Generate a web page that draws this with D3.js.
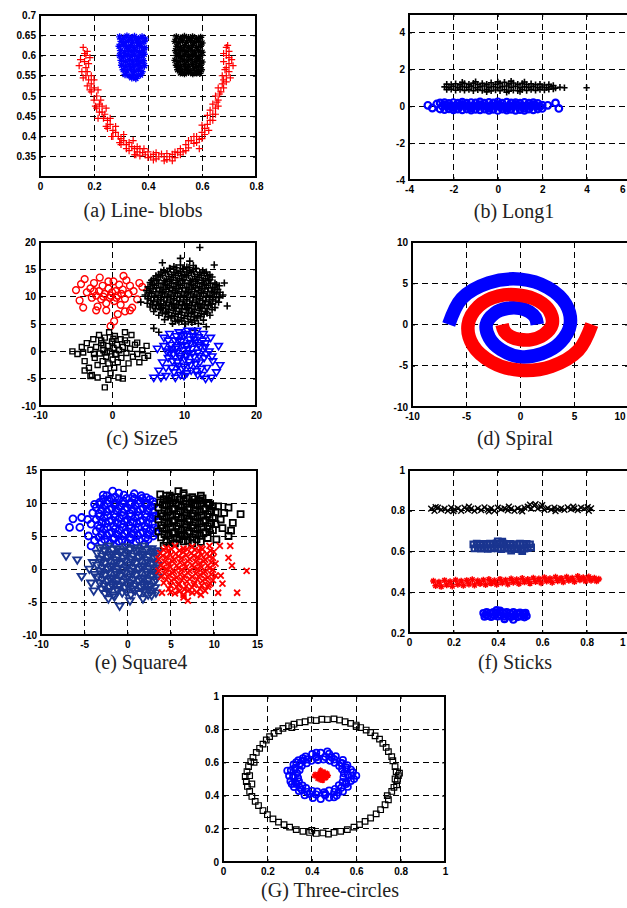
<!DOCTYPE html>
<html><head><meta charset="utf-8">
<script src="https://cdn.jsdelivr.net/npm/d3@7"></script>
<style>body{margin:0;background:#fff}svg{display:block}
.tick text{font-family:"Liberation Sans",Arial,sans-serif;font-weight:bold;font-size:10px;fill:#000}
.cap{font-family:"Liberation Serif","Times New Roman",Times,"DejaVu Serif",serif;font-size:20px;fill:#222}</style>
</head><body>
<svg id="chart" width="627" height="908"></svg>
<script>
// ---------------- DATA (flat x,y lists) ----------------
const captions = ["(a) Line- blobs","(b) Long1","(c) Size5","(d) Spiral","(e) Square4","(f) Sticks","(G) Three-circles"];

const xTicksA=[0,0.2,0.4,0.6,0.8], yTicksA=[0.35,0.4,0.45,0.5,0.55,0.6,0.65,0.7];
const xTicksB=[-4,-2,0,2,4,6], yTicksB=[-4,-2,0,2,4];
const xTicksC=[-10,0,10,20], yTicksC=[-10,-5,0,5,10,15,20];
const xTicksD=[-10,-5,0,5,10], yTicksD=[-10,-5,0,5,10];
const xTicksE=[-10,-5,0,5,10,15], yTicksE=[-10,-5,0,5,10,15];
const xTicksF=[0,0.2,0.4,0.6,0.8,1], yTicksF=[0.2,0.4,0.6,0.8,1];
const xTicksG=[0,0.2,0.4,0.6,0.8,1], yTicksG=[0,0.2,0.4,0.6,0.8,1];

// (a) Line-blobs
const redA=[.16,.62,.175,.61,.17,.60,.15,.59,.165,.585,.18,.58,.17,.57,.155,.56,.17,.55,.19,.55,.18,.54,.16,.545,.19,.53,.2,.52,.19,.51,.21,.50,.2,.49,.22,.48,.21,.47,.23,.475,.22,.46,.24,.455,.235,.445,.25,.44,.26,.43,.25,.42,.27,.415,.28,.41,.27,.40,.29,.40,.30,.395,.31,.39,.30,.38,.32,.38,.33,.385,.34,.375,.33,.365,.35,.37,.36,.362,.37,.37,.38,.36,.37,.352,.39,.355,.40,.362,.41,.35,.42,.356,.43,.345,.44,.35,.45,.357,.46,.35,.47,.343,.48,.35,.49,.356,.50,.348,.51,.36,.52,.37,.53,.362,.54,.38,.55,.372,.56,.39,.57,.383,.58,.40,.59,.393,.60,.41,.61,.42,.60,.428,.62,.43,.63,.44,.62,.452,.64,.455,.63,.465,.65,.47,.64,.48,.66,.49,.65,.50,.67,.51,.66,.52,.675,.53,.68,.54,.69,.55,.70,.56,.69,.57,.70,.58,.71,.59,.69,.60,.70,.61,.69,.62,.68,.605,.705,.545,.685,.565,.59,.37,.49,.34,.35,.355,.225,.49,.175,.525,
.165,.605,.185,.595,.145,.575,.175,.56,.2,.54,.185,.515,.215,.515,.205,.475,.23,.46,.245,.47,.215,.445,.26,.445,.245,.425,.28,.425,.265,.40,.295,.385,.31,.405,.32,.37,.345,.39,.36,.375,.355,.355,.385,.37,.40,.348,.42,.342,.43,.36,.46,.34,.47,.358,.5,.362,.52,.355,.54,.365,.55,.39,.57,.40,.58,.385,.6,.395,.61,.405,.625,.415,.64,.44,.65,.455,.655,.485,.665,.505,.68,.52,.69,.535,.7,.595,.715,.575,.68,.585,.695,.625,.675,.55,.66,.475];
const blueA=[.295,.646,.31,.643,.322,.648,.338,.644,.35,.647,.365,.642,.378,.646,.39,.641,.30,.635,.315,.632,.328,.637,.342,.633,.357,.636,.37,.631,.385,.634,.293,.623,.308,.626,.32,.621,.335,.624,.348,.62,.362,.625,.375,.622,.388,.619,.298,.612,.313,.609,.327,.614,.34,.61,.355,.613,.368,.608,.382,.611,.295,.60,.31,.597,.323,.602,.337,.598,.35,.601,.364,.596,.378,.599,.386,.603,.30,.588,.316,.585,.33,.59,.343,.586,.357,.589,.37,.584,.383,.587,.302,.576,.318,.573,.332,.578,.346,.574,.36,.577,.374,.572,.387,.575,.308,.565,.322,.562,.336,.566,.35,.561,.364,.564,.378,.56,.315,.553,.33,.55,.345,.554,.36,.549,.372,.552,.34,.545,.355,.543];
const blackA=[.505,.646,.52,.643,.535,.647,.55,.644,.565,.646,.58,.642,.595,.645,.50,.635,.513,.632,.528,.636,.543,.633,.558,.637,.572,.632,.587,.635,.60,.631,.507,.623,.52,.62,.535,.624,.55,.621,.565,.625,.58,.62,.594,.623,.502,.612,.516,.609,.53,.613,.545,.61,.56,.614,.574,.609,.588,.612,.60,.608,.506,.60,.52,.597,.535,.601,.55,.598,.565,.602,.58,.597,.595,.60,.50,.588,.515,.585,.53,.589,.545,.586,.56,.59,.575,.585,.59,.588,.60,.584,.505,.576,.52,.573,.535,.577,.55,.574,.565,.578,.58,.573,.594,.576,.51,.565,.525,.562,.54,.566,.555,.563,.57,.567,.585,.562,.598,.565,.52,.557,.535,.555,.55,.558,.566,.555,.58,.557,.592,.556];

// (b) Long1
const blackB=[-2.4,1.05,-2.2,1.02,-2.0,1.08,-1.8,1.0,-1.6,1.06,-1.4,1.03,-1.2,1.09,-1.0,1.0,-0.8,1.05,-0.6,1.1,-0.4,1.02,-0.2,1.07,0,1.0,0.2,1.06,0.4,1.1,0.6,1.03,0.8,1.08,1.0,1.0,1.2,1.05,1.4,1.02,1.6,1.07,1.8,1.0,2.0,1.04,2.2,1.0,2.4,1.06,2.6,0.98,2.8,1.03,3.0,1.0,-2.3,1.2,-2.1,1.18,-1.9,1.22,-1.7,1.17,-1.5,1.23,-1.3,1.19,-1.1,1.25,-0.9,1.18,-0.7,1.24,-0.5,1.2,-0.3,1.27,-0.1,1.19,0.1,1.24,0.3,1.3,0.5,1.21,0.7,1.26,0.9,1.19,1.1,1.24,1.3,1.18,1.5,1.22,1.7,1.17,1.9,1.2,2.1,1.15,2.3,1.18,2.5,1.12,-2.3,0.9,-2.1,0.92,-1.9,0.87,-1.7,0.91,-1.5,0.86,-1.3,0.9,-1.1,0.84,-0.9,0.89,-0.7,0.85,-0.5,0.9,-0.3,0.83,-0.1,0.88,0.1,0.84,0.3,0.89,0.5,0.82,0.7,0.87,0.9,0.84,1.1,0.89,1.3,0.85,1.5,0.9,1.7,0.86,1.9,0.91,2.1,0.88,2.3,0.92,2.5,0.93,-1.0,1.33,0.0,1.32,0.6,1.36,1.2,1.31,-0.5,0.78,0.4,0.76,1.0,0.8,-1.6,1.3,4.0,1.0];
const blueB=[-3.15,0.05,-2.95,-0.1,-2.75,0.12,-2.5,0.0,-2.3,0.05,-2.1,-0.02,-1.9,0.03,-1.7,0.0,-1.5,0.04,-1.3,-0.03,-1.1,0.02,-0.9,0.0,-0.7,0.05,-0.5,-0.02,-0.3,0.03,-0.1,0.0,0.1,0.04,0.3,-0.03,0.5,0.02,0.7,0.0,0.9,0.05,1.1,-0.02,1.3,0.03,1.5,0.0,1.7,0.04,1.9,-0.02,2.25,0.05,2.6,0.18,2.75,-0.12,-2.6,0.18,-2.4,0.2,-2.2,0.15,-2.0,0.2,-1.8,0.17,-1.6,0.22,-1.4,0.16,-1.2,0.2,-1.0,0.18,-0.8,0.23,-0.6,0.16,-0.4,0.21,-0.2,0.18,0.0,0.24,0.2,0.17,0.4,0.22,0.6,0.18,0.8,0.2,1.0,0.16,1.2,0.21,1.4,0.17,1.6,0.19,1.8,0.15,-2.6,-0.15,-2.4,-0.18,-2.2,-0.14,-2.0,-0.2,-1.8,-0.16,-1.6,-0.2,-1.4,-0.15,-1.2,-0.21,-1.0,-0.17,-0.8,-0.2,-0.6,-0.16,-0.4,-0.22,-0.2,-0.17,0.0,-0.23,0.2,-0.16,0.4,-0.21,0.6,-0.17,0.8,-0.22,1.0,-0.18,1.2,-0.22,1.4,-0.16,1.6,-0.2,1.8,-0.15,2.0,-0.12,
-2.4,0.08,-2.0,-0.08,-1.6,0.1,-1.2,-0.09,-0.8,0.09,-0.4,-0.1,0.0,0.1,0.4,-0.09,0.8,0.1,1.2,-0.1,1.6,0.09,2.0,0.06];

// (c) Size5
const redC=[-5.0,11.2,-4.3,12.3,-4.5,9.3,-3.5,10.8,-3.0,11.5,-2.8,9.8,-2.5,12.5,-2.2,10.2,-2.0,8.2,-1.8,11.0,-1.5,9.5,-1.3,12.0,-1.0,10.5,-0.8,8.8,-0.5,11.5,-0.3,9.8,0,10.8,0.2,12.8,0.3,9.2,0.5,11.0,0.8,10.2,1.0,12.2,1.2,8.5,1.5,11.3,1.8,9.6,2.0,13.0,2.3,10.5,2.5,12.0,2.8,8.0,3.0,11.0,3.5,9.5,3.8,12.5,-1.7,13.5,-3.8,13.2,0.8,6.8,0.3,5.5,-0.2,4.6,-0.8,7.5,-2.2,7.5,1.8,7.3,-0.5,12.8,0.6,9.8,-1.2,10.0,-0.2,10.2,1.3,10.5,-2.5,11.0,2.5,7.5,4.2,11.8,-4.0,8.0,1.6,13.8];
const plusC=[8.6,15.5,9.5,15.8,10.4,15.4,11.3,15.7,7.2,14.8,8.1,15.1,9.0,14.7,9.9,15.0,10.8,14.8,11.7,15.1,12.6,14.7,6.5,14.1,7.4,14.4,8.3,14.0,9.2,14.3,10.1,14.1,11.0,14.4,11.9,14.0,12.8,14.3,13.6,14.0,5.8,13.3,6.7,13.6,7.6,13.2,8.5,13.5,9.4,13.3,10.3,13.6,11.2,13.2,12.1,13.5,13.0,13.3,13.9,13.6,5.3,12.6,6.2,12.9,7.1,12.5,8.0,12.8,8.9,12.6,9.8,12.9,10.7,12.5,11.6,12.8,12.5,12.6,13.4,12.9,14.3,12.5,5.0,11.8,5.9,12.1,6.8,11.7,7.7,12.0,8.6,11.8,9.5,12.1,10.4,11.7,11.3,12.0,12.2,11.8,13.1,12.1,14.0,11.7,14.9,12.0,4.8,11.1,5.7,11.4,6.6,11.0,7.5,11.3,8.4,11.1,9.3,11.4,10.2,11.0,11.1,11.3,12.0,11.1,12.9,11.4,13.8,11.0,14.7,11.3,4.6,10.3,5.5,10.6,6.4,10.2,7.3,10.5,8.2,10.3,9.1,10.6,10.0,10.2,10.9,10.5,11.8,10.3,12.7,10.6,13.6,10.2,14.5,10.5,15.4,10.3,5.0,9.6,5.9,9.9,6.8,9.5,7.7,9.8,8.6,9.6,9.5,9.9,10.4,9.5,11.3,9.8,12.2,9.6,13.1,9.9,14.0,9.5,14.9,9.8,4.9,8.8,5.8,9.1,6.7,8.7,7.6,9.0,8.5,8.8,9.4,9.1,10.3,8.7,11.2,9.0,12.1,8.8,13.0,9.1,13.9,8.7,14.8,9.0,5.3,8.1,6.2,8.4,7.1,8.0,8.0,8.3,8.9,8.1,9.8,8.4,10.7,8.0,11.6,8.3,12.5,8.1,13.4,8.4,14.3,8.0,5.8,7.3,6.7,7.6,7.6,7.2,8.5,7.5,9.4,7.3,10.3,7.6,11.2,7.2,12.1,7.5,13.0,7.3,13.9,7.6,6.5,6.6,7.4,6.9,8.3,6.5,9.2,6.8,10.1,6.6,11.0,6.9,11.9,6.5,12.8,6.8,13.6,6.6,7.3,5.8,8.2,6.1,9.1,5.7,10.0,6.0,10.9,5.8,11.8,6.1,12.7,5.7,8.4,5.1,9.3,5.4,10.2,5.0,11.1,5.3,12.0,5.1,12.2,19.0,10.8,16.5,9.5,17.0,5.8,4.2,13.1,4.5,16.0,8.3,15.6,12.5,4.0,9.0,14.2,15.8,7.0,16.2,11.5,3.8,6.5,3.5];
const plusC2=[8.0,15.2,8.9,15.3,9.8,15.1,10.7,15.3,11.6,15.2,6.8,14.5,7.7,14.6,8.6,14.4,9.5,14.6,10.4,14.5,11.3,14.6,12.2,14.4,13.1,14.5,6.1,13.8,7.0,13.9,7.9,13.7,8.8,13.9,9.7,13.8,10.6,13.9,11.5,13.7,12.4,13.9,13.3,13.8,5.5,13.0,6.4,13.1,7.3,12.9,8.2,13.1,9.1,13.0,10.0,13.1,10.9,12.9,11.8,13.1,12.7,13.0,13.6,13.1,5.6,12.3,6.5,12.4,7.4,12.2,8.3,12.4,9.2,12.3,10.1,12.4,11.0,12.2,11.9,12.4,12.8,12.3,13.7,12.4,14.5,12.2,5.3,11.5,6.2,11.6,7.1,11.4,8.0,11.6,8.9,11.5,9.8,11.6,10.7,11.4,11.6,11.6,12.5,11.5,13.4,11.6,14.3,11.4,5.2,10.8,6.1,10.9,7.0,10.7,7.9,10.9,8.8,10.8,9.7,10.9,10.6,10.7,11.5,10.9,12.4,10.8,13.3,10.9,14.2,10.7,15.0,10.8,5.0,10.0,5.9,10.1,6.8,9.9,7.7,10.1,8.6,10.0,9.5,10.1,10.4,9.9,11.3,10.1,12.2,10.0,13.1,10.1,14.0,9.9,14.9,10.0,5.4,9.3,6.3,9.4,7.2,9.2,8.1,9.4,9.0,9.3,9.9,9.4,10.8,9.2,11.7,9.4,12.6,9.3,13.5,9.4,14.4,9.2,5.6,8.5,6.5,8.6,7.4,8.4,8.3,8.6,9.2,8.5,10.1,8.6,11.0,8.4,11.9,8.6,12.8,8.5,13.7,8.6,6.0,7.8,6.9,7.9,7.8,7.7,8.7,7.9,9.6,7.8,10.5,7.9,11.4,7.7,12.3,7.9,13.2,7.8,7.0,7.0,7.9,7.1,8.8,6.9,9.7,7.1,10.6,7.0,11.5,7.1,12.4,6.9,13.2,7.0,7.8,6.3,8.7,6.4,9.6,6.2,10.5,6.4,11.4,6.3,12.3,6.4,8.8,5.5,9.7,5.6,10.6,5.4,11.5,5.6];
const squareC=[-5.5,0.0,-4.8,-0.5,-4.2,0.8,-3.8,-1.8,-3.5,1.5,-3.2,-3.0,-3.0,0.3,-2.8,-4.3,-2.6,2.2,-2.4,-1.2,-2.2,0.8,-2.0,-2.5,-1.8,3.0,-1.7,-0.4,-1.5,1.5,-1.3,-1.8,-1.2,0.2,-1.0,2.5,-0.9,-3.2,-0.8,-1.0,-0.6,1.0,-0.5,-2.2,-0.4,3.5,-0.3,0.0,-0.2,-4.0,0.0,1.8,0.1,-1.5,0.2,0.6,0.3,-3.0,0.4,2.8,0.5,-0.6,0.7,1.2,0.8,-2.0,0.9,-4.8,1.0,0.2,1.2,2.2,1.3,-1.2,1.5,0.8,1.6,-3.2,1.8,3.5,2.0,-0.3,2.1,1.5,2.3,-2.2,2.5,0.5,2.7,3.0,2.9,-1.0,3.2,1.2,3.5,-0.5,3.8,-2.0,4.2,0.2,4.5,-1.2,5.0,-0.8,4.8,1.0,-1.0,-6.6,-0.5,-5.2,-2.0,-4.8,-3.0,-4.5,1.5,-5.0,-1.5,2.0,-0.7,-0.2,0.6,-0.5,-2.5,-0.5,1.8,2.0,-1.2,1.2,0.2,2.3,3.5,1.6,-3.8,-3.5,-4.0,-0.2];
const triC=[5.8,-4.8,6.5,-3.5,6.3,0.5,7.0,-2.0,7.2,2.5,7.5,-4.5,7.6,0.0,7.8,-1.2,8.0,3.2,8.2,1.2,8.3,-3.0,8.5,-0.5,8.7,2.0,8.8,-4.8,9.0,0.8,9.1,-2.0,9.3,3.5,9.4,-0.8,9.6,1.8,9.7,-3.2,9.9,0.2,10.0,2.8,10.1,-1.5,10.3,1.0,10.4,-4.0,10.6,-0.3,10.8,2.2,10.9,-2.5,11.1,0.5,11.2,3.6,11.4,-1.0,11.5,1.6,11.7,-3.6,11.9,-0.2,12.0,2.6,12.2,-2.0,12.3,0.9,12.5,-4.3,12.7,3.2,12.8,-1.2,13.0,1.5,13.2,-3.0,13.5,0.0,13.7,2.5,14.0,-1.8,14.5,-3.8,14.8,1.0,15.0,-2.5,13.8,-4.8,9.5,-4.3,8.0,-0.2,10.5,3.8,11.8,3.8,9.2,2.0,10.2,-0.8,11.0,-3.5,12.0,1.2,8.8,0.5,7.2,1.0,6.8,-4.8,13.0,-5.0,
7.8,2.0,8.4,-1.8,8.9,2.8,9.2,-2.6,9.8,1.2,10.0,-2.8,10.5,0.4,10.7,-1.9,11.3,2.8,11.6,-2.3,12.1,-0.8,12.6,2.0,13.1,-0.5,8.6,-3.8,10.2,3.2,11.9,-4.3,9.5,-1.2,10.9,1.5,12.4,-3.2,7.5,-3.0,8.3,0.4,9.6,3.0,11.4,2.2,12.9,0.8,13.9,-0.9,9.0,-0.2,10.0,-4.5,11.2,-0.3];

// (d) Spiral (band centre lines)
const blueSpiral=[-6.6,0,-5.4,3.15,-2.9,5.05,0,5.5,2.58,4.48,4.25,2.45,4.65,0,3.74,-2.17,2.03,-3.53,0,-3.9,-1.76,-3.05,-2.83,-1.64,-3.12,0,-2.35,1.36,-1.13,1.97,0,1.97,0.88,1.53,1.43,0.83,1.6,0];
const redSpiral=[6.65,0,5.4,-3.15,2.92,-5.08,0,-5.55,-2.62,-4.55,-4.36,-2.52,-4.8,0,-3.83,2.22,-1.99,3.45,0,3.55,1.66,2.88,2.75,1.59,2.97,0,2.18,-1.26,1.05,-1.83,0,-1.82,-0.86,-1.48,-1.44,-0.83,-1.66,0];

// (e) Square4
const circleE=[-2.4,11.1,-1.4,10.9,-0.4,11.2,0.6,10.9,1.6,11.1,-3.2,10.1,-2.3,10.4,-1.4,10.0,-0.5,10.3,0.4,10.1,1.3,10.4,2.2,10.0,3.0,10.2,-3.6,9.3,-2.7,9.6,-1.8,9.2,-0.9,9.5,0.0,9.3,0.9,9.6,1.8,9.2,2.7,9.5,-3.3,8.4,-2.4,8.7,-1.5,8.3,-0.6,8.6,0.3,8.4,1.2,8.7,2.1,8.3,3.0,8.6,-3.6,7.5,-2.7,7.8,-1.8,7.4,-0.9,7.7,0.0,7.5,0.9,7.8,1.8,7.4,2.7,7.7,-3.4,6.6,-2.5,6.9,-1.6,6.5,-0.7,6.8,0.2,6.6,1.1,6.9,2.0,6.5,2.9,6.8,-3.6,5.7,-2.7,6.0,-1.8,5.6,-0.9,5.9,0.0,5.7,0.9,6.0,1.8,5.6,2.7,5.9,-3.3,4.8,-2.4,5.1,-1.5,4.7,-0.6,5.0,0.3,4.8,1.2,5.1,2.1,4.7,3.0,5.0,-3.0,4.1,-2.0,3.9,-1.0,4.2,0.0,3.9,1.0,4.1,2.0,3.8,-6.7,6.3,-6.3,7.6,-5.3,7.8,-5.5,6.3,-4.2,6.8,-4.5,5.0,-3.8,9.8,-4.0,8.5,-1.7,11.8,0.8,11.4,2.2,10.8,-4.2,3.5,-3.8,4.3,-1.0,11.5,-2.8,11.2,3.3,8.0,3.3,5.5,-4.6,7.5];
const circleE2=[-2.8,10.6,-1.9,10.7,-1.0,10.5,-0.1,10.7,0.8,10.6,1.7,10.7,2.6,10.5,-3.2,9.8,-2.3,9.9,-1.4,9.7,-0.5,9.9,0.4,9.8,1.3,9.9,2.2,9.7,3.1,9.8,-3.0,8.9,-2.1,9.0,-1.2,8.8,-0.3,9.0,0.6,8.9,1.5,9.0,2.4,8.8,-3.2,8.0,-2.3,8.1,-1.4,7.9,-0.5,8.1,0.4,8.0,1.3,8.1,2.2,7.9,3.1,8.0,-3.0,7.1,-2.1,7.2,-1.2,7.0,-0.3,7.2,0.6,7.1,1.5,7.2,2.4,7.0,-3.2,6.2,-2.3,6.3,-1.4,6.1,-0.5,6.3,0.4,6.2,1.3,6.3,2.2,6.1,3.1,6.2,-3.0,5.3,-2.1,5.4,-1.2,5.2,-0.3,5.4,0.6,5.3,1.5,5.4,2.4,5.2,-2.6,4.4,-1.6,4.5,-0.6,4.3,0.4,4.5,1.4,4.4,2.4,4.5];
const squareE=[4.5,11.1,5.5,10.9,6.5,11.2,7.5,10.9,8.5,11.1,3.8,10.1,4.7,10.4,5.6,10.0,6.5,10.3,7.4,10.1,8.3,10.4,9.2,10.0,3.6,9.3,4.5,9.6,5.4,9.2,6.3,9.5,7.2,9.3,8.1,9.6,9.0,9.2,9.9,9.5,3.9,8.4,4.8,8.7,5.7,8.3,6.6,8.6,7.5,8.4,8.4,8.7,9.3,8.3,10.2,8.6,3.6,7.5,4.5,7.8,5.4,7.4,6.3,7.7,7.2,7.5,8.1,7.8,9.0,7.4,9.9,7.7,3.9,6.6,4.8,6.9,5.7,6.5,6.6,6.8,7.5,6.6,8.4,6.9,9.3,6.5,10.2,6.8,3.6,5.7,4.5,6.0,5.4,5.6,6.3,5.9,7.2,5.7,8.1,6.0,9.0,5.6,9.9,5.9,3.9,4.8,4.8,5.1,5.7,4.7,6.6,5.0,7.5,4.8,8.4,5.1,9.3,4.7,4.5,4.1,5.5,3.9,6.5,4.2,7.5,3.9,8.5,4.1,13.1,8.3,11.7,9.3,11.7,5.0,5.9,11.8,4.9,11.1,9.4,10.0,4.2,3.5,10.8,7.5,11.0,6.2,12.2,7.0,10.5,9.5,11.2,8.5,10.3,4.5,6.5,11.5,3.8,11.3,12.0,5.8];
const squareE2=[4.2,10.6,5.1,10.7,6.0,10.5,6.9,10.7,7.8,10.6,8.7,10.7,4.1,9.8,5.0,9.9,5.9,9.7,6.8,9.9,7.7,9.8,8.6,9.9,9.5,9.7,4.3,8.9,5.2,9.0,6.1,8.8,7.0,9.0,7.9,8.9,8.8,9.0,9.7,8.8,4.1,8.0,5.0,8.1,5.9,7.9,6.8,8.1,7.7,8.0,8.6,8.1,9.5,7.9,4.3,7.1,5.2,7.2,6.1,7.0,7.0,7.2,7.9,7.1,8.8,7.2,9.7,7.0,4.1,6.2,5.0,6.3,5.9,6.1,6.8,6.3,7.7,6.2,8.6,6.3,9.5,6.1,4.3,5.3,5.2,5.4,6.1,5.2,7.0,5.4,7.9,5.3,8.8,5.4,5.0,4.4,6.0,4.5,7.0,4.3,8.0,4.5];
const triE=[-3.2,3.2,-2.2,3.5,-1.2,3.1,-0.2,3.4,0.8,3.2,1.8,3.5,2.8,3.1,-3.5,2.4,-2.6,2.7,-1.7,2.3,-0.8,2.6,0.1,2.4,1.0,2.7,1.9,2.3,2.8,2.6,3.5,2.4,-3.2,1.5,-2.3,1.8,-1.4,1.4,-0.5,1.7,0.4,1.5,1.3,1.8,2.2,1.4,3.1,1.7,-3.5,0.6,-2.6,0.9,-1.7,0.5,-0.8,0.8,0.1,0.6,1.0,0.9,1.9,0.5,2.8,0.8,3.5,0.6,-3.2,-0.3,-2.3,0.0,-1.4,-0.4,-0.5,-0.1,0.4,-0.3,1.3,0.0,2.2,-0.4,3.1,-0.1,-3.5,-1.2,-2.6,-0.9,-1.7,-1.3,-0.8,-1.0,0.1,-1.2,1.0,-0.9,1.9,-1.3,2.8,-1.0,3.5,-1.2,-3.2,-2.1,-2.3,-1.8,-1.4,-2.2,-0.5,-1.9,0.4,-2.1,1.3,-1.8,2.2,-2.2,3.1,-1.9,-3.0,-3.0,-2.1,-2.7,-1.2,-3.1,-0.3,-2.8,0.6,-3.0,1.5,-2.7,2.4,-3.1,3.2,-2.8,-2.6,-3.7,-1.6,-3.9,-0.6,-3.6,0.4,-3.9,1.4,-3.7,2.4,-3.9,-7.1,2.0,-5.8,1.4,-5.3,-1.1,-4.4,0.0,-4.2,-2.1,-3.9,-3.3,-0.9,-5.6,0.3,-4.8,-2.2,-4.5,-1.5,-4.2,1.8,-4.5,2.8,-4.0,3.3,-3.6,-4.0,1.0,-3.8,-0.8];
const triE2=[-2.7,2.9,-1.7,3.0,-0.7,2.8,0.3,3.0,1.3,2.9,2.3,3.0,3.2,2.8,-2.9,2.0,-2.0,2.1,-1.1,1.9,-0.2,2.1,0.7,2.0,1.6,2.1,2.5,1.9,3.3,2.0,-3.0,1.1,-2.1,1.2,-1.2,1.0,-0.3,1.2,0.6,1.1,1.5,1.2,2.4,1.0,3.2,1.1,-2.9,0.2,-2.0,0.3,-1.1,0.1,-0.2,0.3,0.7,0.2,1.6,0.3,2.5,0.1,3.3,0.2,-3.0,-0.7,-2.1,-0.6,-1.2,-0.8,-0.3,-0.6,0.6,-0.7,1.5,-0.6,2.4,-0.8,3.2,-0.7,-2.9,-1.6,-2.0,-1.5,-1.1,-1.7,-0.2,-1.5,0.7,-1.6,1.6,-1.5,2.5,-1.7,3.3,-1.6,-2.7,-2.5,-1.8,-2.4,-0.9,-2.6,0.0,-2.4,0.9,-2.5,1.8,-2.4,2.7,-2.6,-2.2,-3.4,-1.1,-3.3,-0.1,-3.5,0.9,-3.3,1.9,-3.4,2.8,-3.3];
const crossE=[4.5,3.2,5.5,3.5,6.5,3.1,7.5,3.4,8.5,3.2,9.5,3.5,3.8,2.4,4.7,2.7,5.6,2.3,6.5,2.6,7.4,2.4,8.3,2.7,9.2,2.3,10.0,2.6,3.6,1.5,4.5,1.8,5.4,1.4,6.3,1.7,7.2,1.5,8.1,1.8,9.0,1.4,9.9,1.7,3.9,0.6,4.8,0.9,5.7,0.5,6.6,0.8,7.5,0.6,8.4,0.9,9.3,0.5,10.2,0.8,3.6,-0.3,4.5,0.0,5.4,-0.4,6.3,-0.1,7.2,-0.3,8.1,0.0,9.0,-0.4,9.9,-0.1,3.9,-1.2,4.8,-0.9,5.7,-1.3,6.6,-1.0,7.5,-1.2,8.4,-0.9,9.3,-1.3,10.2,-1.0,4.2,-2.1,5.1,-1.8,6.0,-2.2,6.9,-1.9,7.8,-2.1,8.7,-1.8,9.6,-2.2,4.8,-3.0,5.7,-2.7,6.6,-3.1,7.5,-2.8,8.4,-3.0,9.3,-2.7,5.5,-3.7,6.5,-3.9,7.5,-3.6,8.5,-3.9,13.8,-0.3,12.7,-3.6,11.9,3.5,10.7,3.5,10.5,-3.6,11.7,1.7,12.1,0.5,4.0,-3.6,7.0,-4.8,10.8,-1.0,11.0,-2.2,5.0,-3.5,6.5,-4.3];
const crossE2=[4.2,2.9,5.1,3.0,6.0,2.8,6.9,3.0,7.8,2.9,8.7,3.0,9.6,2.8,4.1,2.0,5.0,2.1,5.9,1.9,6.8,2.1,7.7,2.0,8.6,2.1,9.5,1.9,4.3,1.1,5.2,1.2,6.1,1.0,7.0,1.2,7.9,1.1,8.8,1.2,9.7,1.0,4.1,0.2,5.0,0.3,5.9,0.1,6.8,0.3,7.7,0.2,8.6,0.3,9.5,0.1,4.3,-0.7,5.2,-0.6,6.1,-0.8,7.0,-0.6,7.9,-0.7,8.8,-0.6,9.7,-0.8,4.5,-1.6,5.4,-1.5,6.3,-1.7,7.2,-1.5,8.1,-1.6,9.0,-1.5,9.9,-1.7,5.0,-2.5,5.9,-2.4,6.8,-2.6,7.7,-2.4,8.6,-2.5,9.4,-2.4,6.0,-3.4,7.0,-3.3,8.0,-3.5,9.0,-3.3];

// (f) Sticks
const blackF=[0.10,0.81,0.115,0.80,0.13,0.815,0.145,0.805,0.16,0.81,0.175,0.80,0.19,0.815,0.205,0.807,0.22,0.812,0.235,0.80,0.25,0.815,0.265,0.805,0.28,0.81,0.295,0.80,0.31,0.812,0.325,0.803,0.34,0.816,0.355,0.806,0.37,0.812,0.385,0.80,0.40,0.815,0.415,0.808,0.43,0.812,0.445,0.802,0.46,0.81,0.475,0.80,0.49,0.812,0.505,0.805,0.52,0.815,0.535,0.82,0.55,0.81,0.565,0.825,0.58,0.81,0.595,0.818,0.61,0.805,0.625,0.813,0.64,0.806,0.655,0.815,0.67,0.808,0.685,0.812,0.70,0.804,0.715,0.816,0.73,0.808,0.745,0.812,0.76,0.803,0.775,0.815,0.79,0.81,0.805,0.818,0.82,0.812,0.545,0.83,0.60,0.828,
0.12,0.818,0.2,0.798,0.27,0.82,0.36,0.797,0.45,0.82,0.51,0.797,0.57,0.832,0.66,0.798,0.74,0.82,0.81,0.8];
const squareF=[0.29,0.635,0.305,0.638,0.32,0.633,0.335,0.637,0.35,0.634,0.365,0.639,0.38,0.635,0.395,0.64,0.41,0.636,0.425,0.638,0.44,0.634,0.455,0.637,0.47,0.633,0.485,0.636,0.50,0.638,0.515,0.634,0.53,0.637,0.545,0.635,0.295,0.615,0.31,0.618,0.325,0.614,0.34,0.617,0.355,0.613,0.37,0.616,0.385,0.619,0.40,0.615,0.415,0.612,0.43,0.617,0.445,0.614,0.46,0.618,0.475,0.612,0.49,0.615,0.505,0.61,0.52,0.614,0.535,0.617,0.55,0.62,0.40,0.65,0.42,0.648,0.46,0.605,0.51,0.602];
const redF=[0.11,.455,.135,.45,.16,.458,.185,.452,.21,.46,.235,.455,.26,.458,.285,.462,.31,.456,.335,.46,.36,.463,.385,.457,.41,.464,.435,.46,.46,.466,.485,.462,.51,.468,.535,.463,.56,.47,.585,.466,.61,.472,.635,.467,.66,.474,.685,.469,.71,.475,.735,.47,.76,.478,.785,.472,.81,.476,.835,.47,.855,.465,.12,.432,.145,.428,.17,.436,.195,.43,.22,.438,.245,.433,.27,.44,.295,.435,.32,.442,.345,.437,.37,.444,.395,.438,.42,.446,.445,.44,.47,.448,.495,.442,.52,.45,.545,.444,.57,.452,.595,.446,.62,.454,.645,.448,.67,.456,.695,.45,.72,.458,.745,.452,.77,.46,.795,.455,.82,.458,.845,.455];
const circleF=[.335,.298,.35,.302,.365,.297,.38,.303,.395,.299,.41,.305,.425,.3,.44,.303,.455,.298,.47,.302,.485,.297,.50,.3,.515,.296,.525,.299,.34,.28,.355,.284,.37,.279,.385,.285,.40,.281,.415,.286,.43,.28,.445,.284,.46,.279,.475,.283,.49,.278,.505,.282,.52,.277,.53,.283,.395,.312,.41,.31,.43,.268,.47,.265,.345,.289,.52,.29];

// (G) Three-circles
const squareG=[0.79,0.52,0.785,0.49,0.78,0.545,0.782,0.465,0.775,0.575,0.765,0.61,0.76,0.635,0.745,0.665,0.735,0.69,0.72,0.715,0.705,0.74,0.685,0.76,0.665,0.78,0.645,0.795,0.62,0.81,0.60,0.825,0.575,0.835,0.55,0.845,0.525,0.855,0.50,0.862,0.47,0.858,0.445,0.86,0.42,0.852,0.395,0.855,0.37,0.845,0.345,0.84,0.32,0.83,0.295,0.82,0.27,0.805,0.25,0.79,0.23,0.775,0.21,0.755,0.195,0.735,0.18,0.71,0.165,0.685,0.15,0.66,0.135,0.63,0.125,0.605,0.115,0.575,0.108,0.545,0.10,0.515,0.105,0.485,0.11,0.455,0.12,0.425,0.13,0.395,0.145,0.365,0.16,0.34,0.18,0.31,0.2,0.285,0.225,0.26,0.25,0.24,0.275,0.225,0.30,0.21,0.33,0.195,0.36,0.185,0.39,0.178,0.42,0.172,0.45,0.175,0.475,0.168,0.5,0.178,0.53,0.185,0.56,0.195,0.59,0.21,0.615,0.225,0.64,0.245,0.665,0.265,0.69,0.29,0.71,0.315,0.73,0.345,0.745,0.375,0.74,0.40,0.76,0.425,0.77,0.45,0.775,0.50,0.795,0.535,0.6,0.815,0.31,0.81,0.14,0.60,0.13,0.47,0.4,0.19,0.12,0.52];
const circleG=[.58,.52,.576,.556,.56,.583,.54,.614,.508,.636,.478,.652,.44,.658,.402,.65,.372,.635,.34,.612,.318,.587,.306,.552,.298,.52,.304,.487,.32,.452,.342,.428,.368,.402,.405,.386,.44,.38,.478,.388,.512,.4,.54,.425,.562,.453,.576,.488,.545,.534,.536,.558,.524,.578,.503,.598,.482,.61,.452,.618,.428,.614,.398,.61,.377,.595,.355,.58,.345,.554,.334,.534,.338,.506,.342,.486,.358,.46,.374,.445,.402,.428,.424,.424,.456,.42,.478,.43,.505,.44,.522,.462,.539,.482,.543,.51,.59,.5,.585,.54,.33,.6,.36,.625,.29,.55,.31,.47,.5,.39,.42,.658,.6,.52,.47,.665,
.562,.525,.555,.57,.535,.596,.49,.63,.42,.636,.36,.61,.325,.568,.318,.51,.33,.47,.355,.435,.39,.41,.46,.402,.52,.42,.555,.47,
.555,.559,.533,.593,.501,.618,.461,.633,.419,.629,.379,.618,.347,.593,.325,.559,.316,.52,.325,.481,.347,.447,.379,.422,.419,.407,.461,.409,.501,.422,.533,.447,.555,.481];
const redG=[.44,.52,.43,.53,.45,.51,.42,.515,.46,.525,.435,.54,.445,.5,.455,.545,.425,.5,.465,.505,.415,.53,.47,.535,.44,.555,.45,.49,.43,.515,.455,.52,.435,.505,.448,.535,.41,.518,.475,.52,.438,.492,.458,.538];

// ---------------- STYLE ----------------
const RED="#ff0000", BLUE="#0000ff", NAVY="#1a3590", BLACK="#000000";
const pairs=a=>{const r=[];for(let i=0;i<a.length;i+=2)r.push([a[i],a[i+1]]);return r;};

// symbol types: size = half extent in px
const symPlus={draw(c,r){c.moveTo(-r,0);c.lineTo(r,0);c.moveTo(0,-r);c.lineTo(0,r);}};
const symX={draw(c,r){c.moveTo(-r,-r);c.lineTo(r,r);c.moveTo(-r,r);c.lineTo(r,-r);}};
const symStar={draw(c,r){const k=r*0.7;c.moveTo(-r,0);c.lineTo(r,0);c.moveTo(0,-r);c.lineTo(0,r);c.moveTo(-k,-k);c.lineTo(k,k);c.moveTo(-k,k);c.lineTo(k,-k);}};
const symCircle={draw(c,r){c.moveTo(r,0);c.arc(0,0,r,0,2*Math.PI);}};
const symSquare={draw(c,r){c.rect(-r,-r,2*r,2*r);}};
const symTriDown={draw(c,r){c.moveTo(-r,-r*0.6);c.lineTo(r,-r*0.6);c.lineTo(0,r);c.closePath();}};

const panels=[
 {box:[40,15,216,162],xd:[0,0.8],yd:[0.3,0.7],xt:xTicksA,yt:yTicksA,cap:captions[0],cx:143,cy:217,
  series:[{d:redA,s:symPlus,r:3.5,c:RED,w:1.2},{d:blueA,s:symStar,r:3.6,c:BLUE,w:1.4},{d:blackA,s:symStar,r:3.6,c:BLACK,w:1.4}]},
 {box:[409,14,222,166],xd:[-4,6],yd:[-4,5],xt:xTicksB,yt:yTicksB,cap:captions[1],cx:514,cy:218,
  series:[{d:blackB,s:symPlus,r:3.2,c:BLACK,w:1.6},{d:blueB,s:symCircle,r:3.3,c:BLUE,w:2.2}]},
 {box:[40,242,216,164],xd:[-10,20],yd:[-10,20],xt:xTicksC,yt:yTicksC,cap:captions[2],cx:142,cy:445,
  series:[{d:redC,s:symCircle,r:3.4,c:RED,w:1.4},{d:plusC.concat(plusC2),s:symPlus,r:3.6,c:BLACK,w:1.6},{d:squareC,s:symSquare,r:2.5,c:BLACK,w:1.4},{d:triC,s:symTriDown,r:3.8,c:BLUE,w:1.6}]},
 {box:[412,242,216,165],xd:[-10,10],yd:[-10,10],xt:xTicksD,yt:yTicksD,cap:captions[3],cx:515,cy:445,
  bands:[{d:blueSpiral,c:BLUE,w:13.5},{d:redSpiral,c:RED,w:13.5}]},
 {box:[41,470,216,165],xd:[-10,15],yd:[-10,15],xt:xTicksE,yt:yTicksE,cap:captions[4],cx:141,cy:669,
  series:[{d:circleE.concat(circleE2),s:symCircle,r:3.5,c:BLUE,w:1.8},{d:squareE.concat(squareE2),s:symSquare,r:3.0,c:BLACK,w:1.8},{d:triE.concat(triE2),s:symTriDown,r:4.0,c:NAVY,w:1.9},{d:crossE.concat(crossE2),s:symX,r:3.0,c:RED,w:1.8}]},
 {box:[409,470,222,163],xd:[0,1],yd:[0.2,1],xt:xTicksF,yt:yTicksF,cap:captions[5],cx:515,cy:669,
  series:[{d:blackF,s:symX,r:2.9,c:BLACK,w:1.4},{d:squareF,s:symSquare,r:2.8,c:NAVY,w:2.2},{d:redF,s:symStar,r:3.3,c:RED,w:1.5},{d:circleF,s:symCircle,r:3,c:BLUE,w:2.2}]},
 {box:[223,696,222,166],xd:[0,1],yd:[0,1],xt:xTicksG,yt:yTicksG,cap:captions[6],cx:330,cy:897,
  series:[{d:squareG,s:symSquare,r:2.8,c:BLACK,w:1.2},{d:circleG,s:symCircle,r:3.2,c:BLUE,w:1.7},{d:redG,s:symStar,r:2.6,c:RED,w:1.2}]}
];

const svg=d3.select("#chart");
svg.append("rect").attr("width",627).attr("height",908).attr("fill","#fff");
const fmt=d=>String(d);
const MAXX=625;

panels.forEach(p=>{
  const [L,T,W,H]=p.box;
  const x=d3.scaleLinear().domain(p.xd).range([L,L+W]);
  const y=d3.scaleLinear().domain(p.yd).range([T+H,T]);
  const g=svg.append("g");
  // grid
  const grid=g.append("g").attr("stroke","#000").attr("stroke-width",1).attr("stroke-dasharray","6,4").attr("shape-rendering","crispEdges");
  grid.selectAll(".gx").data(p.xt.filter(v=>v>p.xd[0]&&v<p.xd[1])).join("line").attr("class","gx")
    .attr("x1",d=>x(d)).attr("x2",d=>x(d)).attr("y1",T).attr("y2",T+H);
  grid.selectAll(".gy").data(p.yt.filter(v=>v>p.yd[0]&&v<p.yd[1])).join("line").attr("class","gy")
    .attr("y1",d=>y(d)).attr("y2",d=>y(d)).attr("x1",L).attr("x2",L+W);
  // bands
  (p.bands||[]).forEach(b=>{
    g.append("path").datum(pairs(b.d))
      .attr("d",d3.line().x(d=>x(d[0])).y(d=>y(d[1])).curve(d3.curveCatmullRom.alpha(0.5)))
      .attr("fill","none").attr("stroke",b.c).attr("stroke-width",b.w).attr("stroke-linecap","butt");
  });
  // scatter series
  (p.series||[]).forEach(s=>{
    const sym=d3.symbol().type(s.s).size(s.r);
    g.append("g").selectAll("path").data(pairs(s.d)).join("path")
      .attr("transform",d=>`translate(${x(d[0])},${y(d[1])})`)
      .attr("d",sym).attr("fill","none").attr("stroke",s.c).attr("stroke-width",s.w);
  });
  // axes
  const style=sel=>{sel.select(".domain").remove();sel.selectAll("line").attr("stroke","#000");sel.attr("font-family",null).attr("font-size",null);};
  const xb=g.append("g").attr("transform",`translate(0,${T+H})`).call(d3.axisBottom(x).tickValues(p.xt).tickSizeInner(-3).tickSizeOuter(0).tickPadding(6).tickFormat(fmt)).call(style);
  xb.selectAll(".tick").filter(d=>x(d)+8>MAXX).select("text").attr("text-anchor","end").attr("x",d=>MAXX-x(d));
  g.append("g").attr("transform",`translate(${L},0)`).call(d3.axisLeft(y).tickValues(p.yt).tickSizeInner(-3).tickSizeOuter(0).tickPadding(4).tickFormat(fmt)).call(style);
  g.append("g").attr("transform",`translate(0,${T})`).call(d3.axisTop(x).tickValues(p.xt).tickSizeInner(-3).tickSizeOuter(0).tickFormat("")).call(style);
  g.append("g").attr("transform",`translate(${L+W},0)`).call(d3.axisRight(y).tickValues(p.yt).tickSizeInner(-3).tickSizeOuter(0).tickFormat("")).call(style);
  g.append("rect").attr("x",L).attr("y",T).attr("width",W).attr("height",H).attr("fill","none").attr("stroke","#000").attr("stroke-width",1.2).attr("shape-rendering","crispEdges");
  g.append("text").attr("class","cap").attr("x",p.cx).attr("y",p.cy).attr("text-anchor","middle").text(p.cap);
});
</script>
</body></html>
